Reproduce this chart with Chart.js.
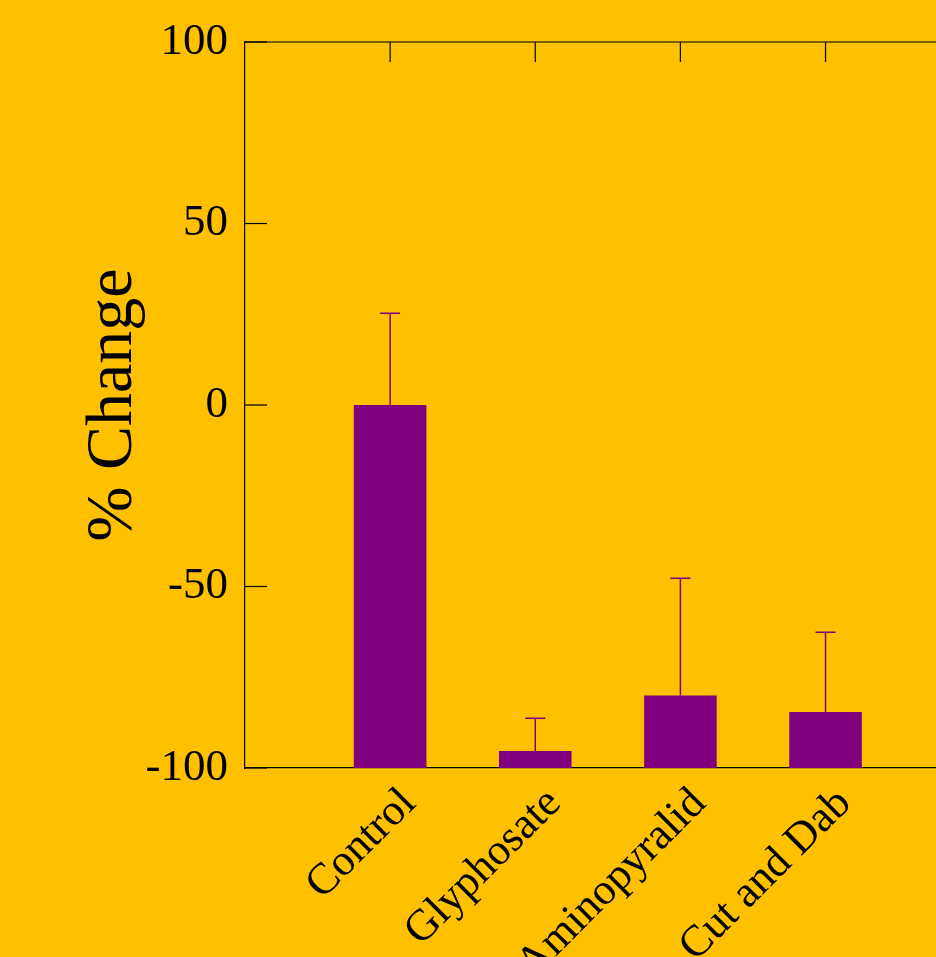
<!DOCTYPE html>
<html>
<head>
<meta charset="utf-8">
<script src="https://cdn.jsdelivr.net/npm/chart.js@4.4.1/dist/chart.umd.min.js"></script>
<style>
  html, body { margin: 0; padding: 0; background: #FFC000; overflow: hidden; }
  #wrap { width: 1010px; height: 957px; }
</style>
</head>
<body>
<div id="wrap"><canvas id="chart" width="1010" height="957"></canvas></div>
<script>
// data
const treatments = ['Control', 'Glyphosate', 'Aminopyralid', 'Cut and Dab'];
const meanChange = [0, -95.3, -80, -84.6];
const errUpper = [25.3, 9, 32.3, 22];
const yTicks = [-100, -50, 0, 50, 100];

// empty slot at each end, like the original x range
const labels = [''].concat(treatments, ['']);
const values = [null].concat(meanChange, [null]);
const errs = [null].concat(errUpper, [null]);

const purple = '#800080';
const serif = "'Liberation Serif', 'DejaVu Serif', serif";

// error bars (upper whisker only is visible) + top axis + inward ticks
const extrasPlugin = {
  id: 'extras',
  afterDatasetsDraw(chart) {
    const ctx = chart.ctx;
    const x = chart.scales.x, y = chart.scales.y;
    const area = chart.chartArea;
    const meta = chart.getDatasetMeta(0);

    ctx.save();
    ctx.strokeStyle = purple;
    ctx.lineWidth = 1.5;
    values.forEach((v, i) => {
      if (v === null) return;
      const bar = meta.data[i];
      const yTop = y.getPixelForValue(v + errs[i]);
      const yBar = y.getPixelForValue(v);
      ctx.beginPath();
      ctx.moveTo(bar.x, yBar);
      ctx.lineTo(bar.x, yTop);
      ctx.moveTo(bar.x - 10, yTop);
      ctx.lineTo(bar.x + 10, yTop);
      ctx.stroke();
    });

    ctx.strokeStyle = '#000';
    ctx.lineWidth = 1.2;
    // top frame line
    ctx.beginPath();
    ctx.moveTo(area.left, area.top);
    ctx.lineTo(area.right, area.top);
    ctx.stroke();
    // inward ticks on the top edge
    for (let i = 1; i < labels.length; i++) {
      const px = x.getPixelForValue(i);
      ctx.beginPath();
      ctx.moveTo(px, area.top);
      ctx.lineTo(px, area.top + 20);
      ctx.stroke();
    }
    // inward ticks on the left edge
    yTicks.forEach(t => {
      const py = y.getPixelForValue(t);
      ctx.beginPath();
      ctx.moveTo(area.left, py);
      ctx.lineTo(area.left + 22, py);
      ctx.stroke();
    });
    ctx.restore();
  }
};

new Chart(document.getElementById('chart'), {
  type: 'bar',
  data: {
    labels: labels,
    datasets: [{
      data: values,
      base: -100,
      backgroundColor: purple,
      borderWidth: 0,
      barPercentage: 0.5,
      categoryPercentage: 1
    }]
  },
  options: {
    responsive: false,
    animation: false,
    devicePixelRatio: 1,
    layout: { padding: { top: 42, right: 0, left: 0, bottom: 0 } },
    plugins: { legend: { display: false }, tooltip: { enabled: false } },
    scales: {
      x: {
        offset: false,
        grid: { display: false },
        border: { display: true, color: '#000', width: 1.2 },
        ticks: {
          color: '#000',
          font: { family: serif, size: 44 },
          minRotation: 45,
          maxRotation: 45,
          autoSkip: false,
          padding: 2,
          labelOffset: 19
        },
        afterFit: s => { s.height = 957 - 768; }
      },
      y: {
        min: -100,
        max: 100,
        grid: { display: false },
        border: { display: true, color: '#000', width: 1.2 },
        afterBuildTicks: s => { s.ticks = yTicks.map(v => ({ value: v })); },
        ticks: {
          color: '#000',
          font: { family: serif, size: 45 },
          padding: 9
        },
        title: {
          display: true,
          text: '% Change',
          color: '#000',
          font: { family: serif, size: 66 },
          padding: { top: 74, bottom: 0 }
        },
        afterFit: s => { s.width = 245; }
      }
    }
  },
  plugins: [extrasPlugin]
});
</script>
</body>
</html>
